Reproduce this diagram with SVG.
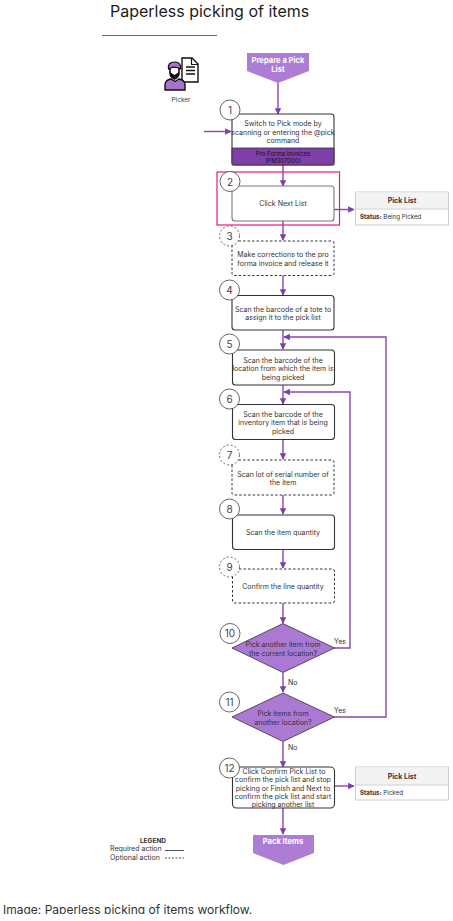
<svg xmlns="http://www.w3.org/2000/svg" width="453" height="921" viewBox="0 0 453 921">
<style>
text{font-family:"Inter","Liberation Sans",sans-serif;fill:#333;font-size:7px;text-anchor:middle}
.box{fill:#fff;stroke:#333;stroke-width:1.1}
.opt{fill:#fff;stroke:#333;stroke-width:1;stroke-dasharray:2.5 2}
.num{fill:#fff;stroke:#555;stroke-width:.9}
.numo{fill:#fff;stroke:#555;stroke-width:.9;stroke-dasharray:2 2}
.n{font-size:10px;fill:#444}
.c{fill:none;stroke:#8a45b5;stroke-width:1.4}
.dia{fill:#ab78d3;stroke:#333;stroke-width:.8}
.ev{fill:#ad7dd6}
.evt{fill:#fff;font-weight:700;font-size:7.6px}
.th{font-weight:700;font-size:7px}
.st{font-size:6.2px;text-anchor:start}
.tb{fill:#fff;stroke:#ccc;stroke-width:1}
.thb{fill:#f3f3f3}
.lb{font-size:7px;text-anchor:start}
.lg{font-size:7px;text-anchor:start}
</style>
<defs>
<marker id="a" viewBox="0 0 10 10" refX="9" refY="5" markerWidth="6.500" markerHeight="6.500" orient="auto" markerUnits="userSpaceOnUse"><path d="M0 0L10 5L0 10Z" fill="#7e3cb0"/></marker>
</defs>
<rect width="453" height="921" fill="#fff"/>
<text x="110" y="17" style="font-size:16px;text-anchor:start;fill:#1c1c1c">Paperless picking of items</text>
<rect x="102" y="35" width="115" height="1" fill="#7a4ea0"/>
<g id="connectors">
<path class="c" marker-end="url(#a)" d="M278 83V114"/>
<path class="c" marker-end="url(#a)" d="M204 131.500H231"/>
<path class="c" marker-end="url(#a)" d="M283 165V186"/>
<path class="c" marker-end="url(#a)" d="M334 209.500H354"/>
<path class="c" marker-end="url(#a)" d="M283 221V240"/>
<path class="c" marker-end="url(#a)" d="M283 275V295"/>
<path class="c" marker-end="url(#a)" d="M283 330V349"/>
<path class="c" marker-end="url(#a)" d="M283 385V404"/>
<path class="c" marker-end="url(#a)" d="M283 440V459"/>
<path class="c" marker-end="url(#a)" d="M283 495V514"/>
<path class="c" marker-end="url(#a)" d="M283 550V568"/>
<path class="c" marker-end="url(#a)" d="M283 603V623"/>
<path class="c" marker-end="url(#a)" d="M283 673V692"/>
<path class="c" marker-end="url(#a)" d="M283 742V767"/>
<path class="c" marker-end="url(#a)" d="M334 786H354"/>
<path class="c" marker-end="url(#a)" d="M283 808V834"/>
<path class="c" marker-end="url(#a)" d="M334 648H350V392H284"/>
<path class="c" marker-end="url(#a)" d="M334 717H386V337H284"/>
</g>
<rect x="217" y="172" width="122.500" height="53" fill="none" stroke="#e8197d" stroke-width="1.200"/>
<g id="picker">
<path d="M182 58h10l6 6v18h-16z" fill="#fff" stroke="#111" stroke-width="1.400"/>
<path d="M186 67h9M186 70.500h9M186 74h9" fill="none" stroke="#111" stroke-width="1.500"/>
<path d="M191.500 58v6.500h6.500" fill="none" stroke="#111" stroke-width="1.200"/>
<path d="M170 66v7q0 4 4.500 6q4.500-2 4.500-6v-7z" fill="#fff" stroke="#111" stroke-width="1.600"/>
<path d="M170 72v3l4.500 4l4.500-4v-3l-4.500 3z" fill="#111"/>
<path d="M168.500 69q-1-7 6-7q5 0 6 4v3q-5-3-10-1z" fill="#a873d0" stroke="#111" stroke-width="1.200"/>
<path d="M165 90v-5q0-5 6-6l4 2.500l4-2.500q6 1 6 6v5z" fill="#a873d0" stroke="#111" stroke-width="1.400"/>
<text x="181" y="101.500" style="font-size:6.500px;fill:#444">Picker</text>
</g>
<g id="start"><path class="ev" d="M247 53H309V71L278 83L247 71Z"/><text class="evt" x="278" y="63">Prepare a Pick</text><text class="evt" x="278" y="72">List</text></g>
<g id="n1"><rect class="box" x="232" y="114" width="102" height="51" rx="3"/><path d="M232 148H334V165H232Z" fill="#7f3fa8" stroke="#333" stroke-width=".8"/>
<text x="283" y="126">Switch to Pick mode by</text><text x="283" y="134.500">scanning or entering the @pick</text><text x="283" y="143">command</text>
<text x="283" y="156" style="font-size:6px;fill:#111">Pro Forma Invoices</text><text x="283" y="163" style="font-size:6px;fill:#111">(PM307000)</text>
<circle class="num" cx="230" cy="110" r="10"/><text class="n" x="230" y="114">1</text></g>
<g id="n2"><rect class="box" x="232" y="186" width="102" height="35" rx="3" style="stroke:#777"/><text x="283" y="206">Click Next List</text><circle class="num" cx="230" cy="181.500" r="10"/><text class="n" x="230" y="185.500">2</text></g>
<g id="t1"><rect class="tb" x="355.500" y="192" width="93" height="33"/><rect class="thb" x="356" y="192.500" width="92" height="16"/><path d="M356 209H448" stroke="#ccc"/><text class="th" x="402" y="203">Pick List</text><text class="st" x="360" y="218.500"><tspan font-weight="700">Status:</tspan> Being Picked</text></g>
<g id="n3"><rect class="opt" x="232" y="241" width="102" height="34.500" rx="2"/><text x="283" y="257">Make corrections to the pro</text><text x="283" y="265.500">forma invoice and release it</text><circle class="numo" cx="229.500" cy="236" r="10"/><text class="n" x="229.500" y="240">3</text></g>
<g id="n4"><rect class="box" x="232" y="295.500" width="102" height="34.500" rx="3"/><text x="283" y="311.500">Scan the barcode of a tote to</text><text x="283" y="320">assign it to the pick list</text><circle class="num" cx="229.500" cy="290" r="10"/><text class="n" x="229.500" y="294">4</text></g>
<g id="n5"><rect class="box" x="232.500" y="350" width="102" height="35" rx="3"/><text x="283" y="362.500">Scan the barcode of the</text><text x="283" y="371">location from which the item is</text><text x="283" y="379.500">being picked</text><circle class="num" cx="229.500" cy="344" r="10"/><text class="n" x="229.500" y="348">5</text></g>
<g id="n6"><rect class="box" x="232.500" y="404.500" width="102" height="35" rx="3"/><text x="283" y="416.500">Scan the barcode of the</text><text x="283" y="425">inventory item that is being</text><text x="283" y="433.500">picked</text><circle class="num" cx="229.500" cy="399" r="10"/><text class="n" x="229.500" y="403">6</text></g>
<g id="n7"><rect class="opt" x="232" y="460" width="102" height="35" rx="2"/><text x="283" y="476.500">Scan lot of serial number of</text><text x="283" y="485">the item</text><circle class="numo" cx="229.500" cy="455" r="10"/><text class="n" x="229.500" y="459">7</text></g>
<g id="n8"><rect class="box" x="232.500" y="515" width="102" height="34.500" rx="3"/><text x="283" y="535">Scan the item quantity</text><circle class="num" cx="229.500" cy="509" r="10"/><text class="n" x="229.500" y="513">8</text></g>
<g id="n9"><rect class="opt" x="232.500" y="569" width="102" height="34" rx="2"/><text x="283" y="589">Confirm the line quantity</text><circle class="numo" cx="229.500" cy="567" r="10"/><text class="n" x="229.500" y="571">9</text></g>
<g id="n10"><path class="dia" d="M283 623.500L334.500 648L283 672.500L232 648Z"/><text x="283" y="647">Pick another item from</text><text x="283" y="655.500">the current location?</text><circle class="num" cx="230" cy="633.500" r="10"/><text class="n" x="230" y="637">10</text><text class="lb" x="334" y="643.500">Yes</text></g>
<text class="lb" x="288" y="685">No</text>
<g id="n11"><path class="dia" d="M283 693L334.500 717L283 741.500L232 717Z"/><text x="283" y="716">Pick items from</text><text x="283" y="724.500">another location?</text><circle class="num" cx="229.500" cy="702" r="10"/><text class="n" x="229.500" y="705.500">11</text><text class="lb" x="334" y="712.500">Yes</text></g>
<text class="lb" x="288" y="750">No</text>
<g id="n12"><rect class="box" x="232.500" y="767" width="102" height="41" rx="4"/><text x="284" y="773.500">Click Confirm Pick List to</text><text x="283" y="782">confirm the pick list and stop</text><text x="283" y="790.500">picking or Finish and Next to</text><text x="283" y="799">confirm the pick list and start</text><text x="283" y="807">picking another list</text><circle class="num" cx="229.500" cy="768" r="10"/><text class="n" x="229.500" y="771.500">12</text></g>
<g id="t2"><rect class="tb" x="355.500" y="767" width="93" height="33"/><rect class="thb" x="356" y="767.500" width="92" height="17"/><path d="M356 785H448" stroke="#ccc"/><text class="th" x="402" y="778.500">Pick List</text><text class="st" x="360" y="795"><tspan font-weight="700">Status:</tspan> Picked</text></g>
<g id="end"><path class="ev" d="M253 835H314V853L283.500 865L253 853Z"/><text class="evt" x="283" y="844">Pack Items</text></g>
<g id="legend"><text x="153" y="843" style="font-size:6.500px;font-weight:700">LEGEND</text><text class="lg" x="110" y="851.300">Required action</text><text class="lg" x="110" y="860">Optional action</text><path d="M165 850.500H184" stroke="#555"/><path d="M165 858H184" stroke="#555" stroke-dasharray="2 1.500"/></g>
<text x="3" y="914" style="font-size:12px;text-anchor:start;fill:#333">Image: Paperless picking of items workflow.</text>
<rect x="0" y="914" width="453" height="7" fill="#fff"/>
</svg>
